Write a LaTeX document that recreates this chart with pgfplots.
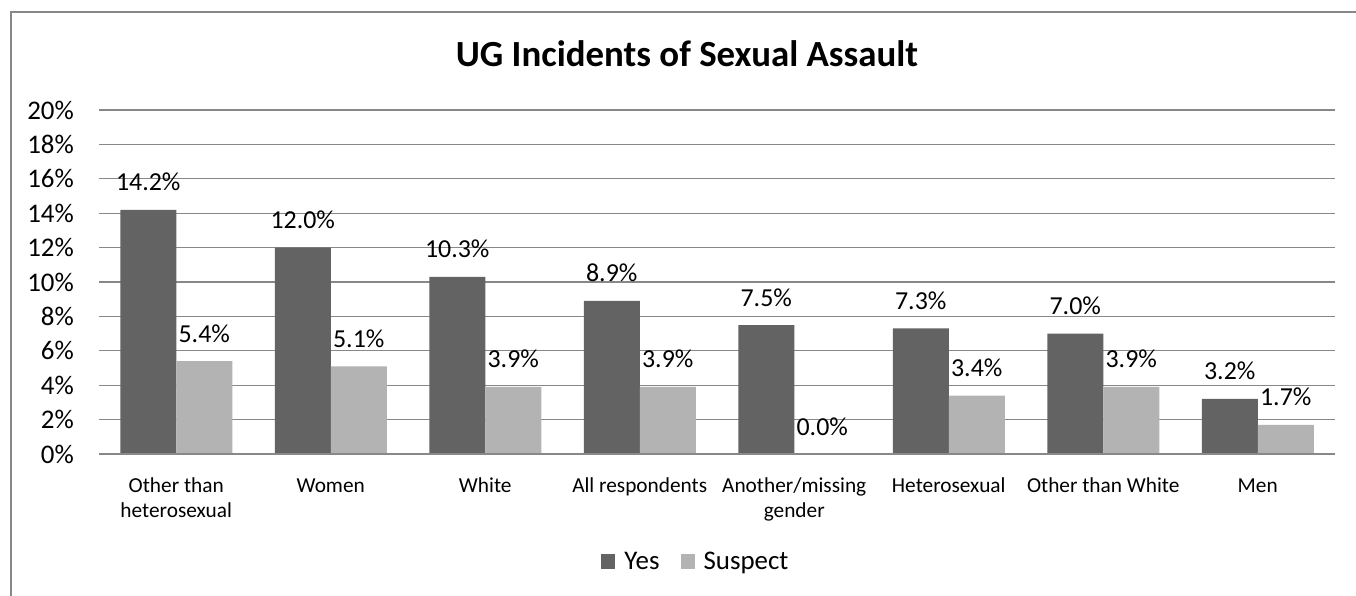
\documentclass[border=0pt]{standalone}
\usepackage{pgfplots}
\pgfplotsset{compat=1.18}
\usepackage{fontspec}
\setmainfont{Carlito}
\definecolor{yesc}{HTML}{636363}
\definecolor{susc}{HTML}{B3B3B3}
\definecolor{gridc}{HTML}{888888}
\begin{document}
\begin{tikzpicture}[x=1bp,y=1bp]
\useasboundingbox (0,0) rectangle (1356,-596);
\draw[color=gridc, line width=1.5bp] (11,-700) -- (11,-12) -- (1400,-12);
\node[anchor=base, font=\fontsize{37}{42}\selectfont\bfseries] at (687,-67) {UG Incidents of Sexual Assault};
\begin{axis}[
  at={(99bp,-454bp)}, anchor=south west,
  scale only axis, width=1236bp, height=344bp,
  ybar=0pt, bar width=56bp,
  xmin=-0.5, xmax=7.5, ymin=0, ymax=20,
  xtick={0,...,7},
  xticklabels={{Other than\\heterosexual},Women,White,All respondents,{Another/missing\\gender},Heterosexual,Other than White,Men},
  typeset ticklabels with strut,
  ytick={0,2,...,20},
  yticklabel={\pgfmathprintnumber[fixed,precision=0]{\tick}\%},
  axis line style={draw=none},
  tick style={draw=none},
  ymajorgrids, grid style={color=gridc, line width=1.3bp},
  yticklabel style={font=\fontsize{27}{32}\selectfont, inner sep=0pt, xshift=-25bp},
  xticklabel style={font=\fontsize{21.4}{25}\selectfont, align=center, inner sep=0pt, anchor=north, yshift=-16.5bp},
  /pgf/number format/assume math mode=true,
  nodes near coords={\pgfmathprintnumber[fixed,fixed zerofill,precision=1]{\pgfplotspointmeta}\%},
  every node near coord/.append style={font=\fontsize{26}{30}\selectfont, anchor=base, inner sep=0pt, yshift=19bp, text=black},
  legend style={at={(0.4822,-0.3125)}, anchor=center, draw=none, legend columns=2, font=\fontsize{27}{32}\selectfont,
    nodes={inner sep=0pt},
    /tikz/every odd column/.append style={column sep=9bp},
    /tikz/every even column/.append style={column sep=21bp}, inner sep=0pt},
  legend image code/.code={\fill[#1] (0bp,-7.5bp) rectangle (14bp,7.5bp);},
]
\addplot[draw=none, fill=yesc] coordinates {(0,14.2) (1,12.0) (2,10.3) (3,8.9) (4,7.5) (5,7.3) (6,7.0) (7,3.2)};
\addplot[draw=none, fill=susc] coordinates {(0,5.4) (1,5.1) (2,3.9) (3,3.9) (4,0.0) (5,3.4) (6,3.9) (7,1.7)};
\legend{Yes,Suspect}
\draw[color=gridc, line width=1.5bp] (rel axis cs:0,0) -- (rel axis cs:1,0);
\end{axis}
\end{tikzpicture}
\end{document}
